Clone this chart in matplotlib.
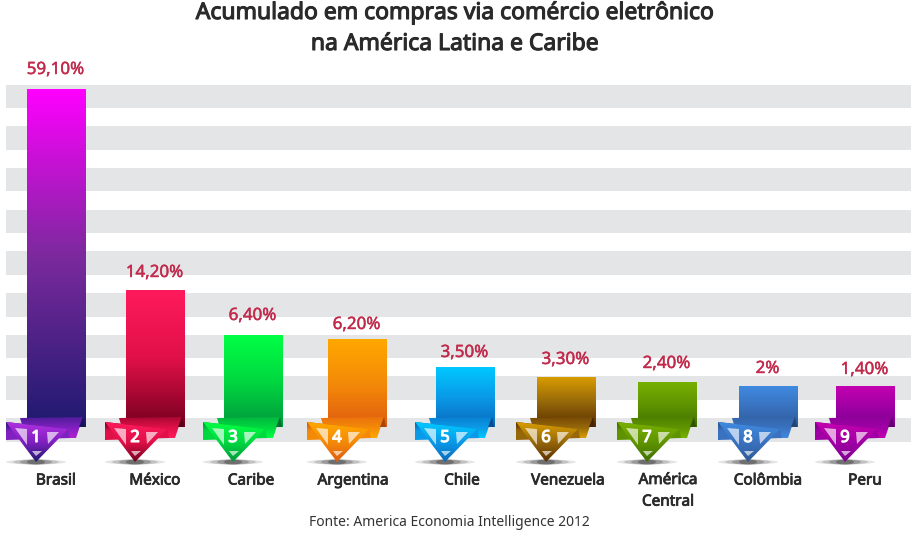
import numpy as np
import matplotlib
matplotlib.use('Agg')
import matplotlib.pyplot as plt
import matplotlib.patheffects as pe
from matplotlib.colors import LinearSegmentedColormap, to_rgb
from matplotlib.patches import Ellipse, Polygon

plt.rcParams['font.family'] = ['Noto Sans', 'DejaVu Sans']

# dados (as barras originais nao estao em escala com os rotulos)
categories = ['Brasil', 'México', 'Caribe', 'Argentina', 'Chile', 'Venezuela',
              'América\nCentral', 'Colômbia', 'Peru']
value_labels = ['59,10%', '14,20%', '6,40%', '6,20%', '3,50%', '3,30%', '2,40%', '2%', '1,40%']
bar_heights = [338, 137, 92, 88, 60, 50, 45, 41, 41]

# layout em pixels
bar_lefts = [27, 126, 224, 328, 436, 537, 638, 739, 836]
bar_width = 59
label_gaps = [21, 19, 21, 16, 16, 19, 20, 19, 18]
name_centers = [56, 155, 251, 353, 462, 568, 668, 768, 865]
baseline = 427

top_colors = ['#ff00ff', '#ff1a5c', '#00ff44', '#ffa800', '#00c8ff', '#d99c00', '#78b000', '#3f8ae0', '#c400b0']
mid_colors = ['#7a2a9c', '#e01048', '#00d840', '#f48a08', '#0a9ae8', '#96680a', '#5f9400', '#3a72c0', '#a000a4']
end_colors = ['#1e1a70', '#75001f', '#00983c', '#e05c10', '#0a68bc', '#5a2e00', '#407000', '#2e5a96', '#7e0090']


def py(pixel_y):
    # linha de pixel -> valor no eixo y
    return baseline - pixel_y


def mix(color, other, t):
    a, b = np.array(to_rgb(color)), np.array(to_rgb(other))
    return tuple(a + (b - a) * t)


def heavy(width, color):
    # a fonte original e semi-negrito
    return [pe.withStroke(linewidth=width, foreground=color)]


fig = plt.figure(figsize=(9.12, 5.46), dpi=100)
ax = fig.add_axes([0, 0, 1, 1])
ax.axis('off')

# faixas cinza do fundo
for k in range(9):
    start = 84.5 + 41.7 * k
    ax.fill_between([6, 913], py(start), py(start + 23.5), color='#e4e5e7', lw=0, zorder=0)

# barras com gradiente
bars = ax.bar(bar_lefts, bar_heights, width=bar_width, align='edge', color='none', zorder=2)
for rect, top, mid, end in zip(bars, top_colors, mid_colors, end_colors):
    cmap = LinearSegmentedColormap.from_list('g', [top, mid, end])
    x0, w, h = rect.get_x(), rect.get_width(), rect.get_height()
    img = ax.imshow(np.linspace(0, 1, 256).reshape(-1, 1), cmap=cmap, aspect='auto',
                    extent=[x0, x0 + w, 0, h], zorder=2)
    img.set_clip_path(rect)

# marcadores de fita com numero
for i, left in enumerate(bar_lefts):
    x = left + 9
    top, mid, end = top_colors[i], mid_colors[i], end_colors[i]
    if i == 0:
        top = '#b030e0'
        mid = '#8020c0'
    dark = mix(end, '#000000', 0.25)

    # sombra
    for w, alpha in zip([60, 46, 32, 18], [0.12, 0.18, 0.25, 0.35]):
        ax.add_patch(Ellipse((x, py(462)), w, 5, color='#222222', alpha=alpha, lw=0, zorder=3))
    # dobra de tras
    fold = Polygon([(x - 16, py(418)), (x + 47, py(417)), (x + 40, py(438)), (x - 10, py(438))],
                   facecolor='none', lw=0, zorder=3)
    ax.add_patch(fold)
    cmap = LinearSegmentedColormap.from_list('f', [mix(end, mid, 0.5), mid, top if i else '#b020d0'])
    img = ax.imshow(np.linspace(0, 1, 32).reshape(-1, 1), cmap=cmap, aspect='auto',
                    extent=[x - 16, x + 47, py(438), py(417)], zorder=3)
    img.set_clip_path(fold)
    ax.add_patch(Polygon([(x + 47, py(417)), (x + 49, py(427)), (x + 43, py(427))],
                         facecolor=dark, lw=0, zorder=3))
    # aba esquerda
    flap = Polygon([(x - 30, py(422)), (x - 30, py(440)), (x + 34, py(438)), (x + 32, py(429))],
                   facecolor='none', lw=0, zorder=4)
    ax.add_patch(flap)
    cmap = LinearSegmentedColormap.from_list('a', [mix(end, '#000000', 0.1), mid, mid])
    img = ax.imshow(np.linspace(0, 1, 32).reshape(-1, 1), cmap=cmap, aspect='auto',
                    extent=[x - 30, x + 34, py(440), py(422)], zorder=4)
    img.set_clip_path(flap)
    # triangulo da frente
    tri = Polygon([(x - 30, py(422)), (x + 32, py(429)), (x, py(462))], facecolor='none', lw=0, zorder=5)
    ax.add_patch(tri)
    cmap = LinearSegmentedColormap.from_list('t', [top, mid, end])
    img = ax.imshow(np.linspace(0, 1, 64).reshape(-1, 1), cmap=cmap, aspect='auto',
                    extent=[x - 30, x + 32, py(462), py(422)], zorder=5)
    img.set_clip_path(tri)
    # triangulos claros
    for pts in ([(-21, 428), (-9, 429), (-9, 445)], [(11, 432), (23, 432), (12, 444)], [(-4, 451), (6, 451), (0, 456)]):
        ax.add_patch(Polygon([(x + a, py(b)) for a, b in pts], facecolor='white', alpha=0.65, lw=0, zorder=6))
    ax.text(x, py(438), str(i + 1), color='white', fontsize=12, ha='center', va='center', zorder=7,
            path_effects=heavy(0.8, 'white'))

# rotulos
for i, rect in enumerate(bars):
    ax.text(rect.get_x() + rect.get_width() / 2 - 1, rect.get_height() + label_gaps[i] - 2, value_labels[i],
            color='#c22a4c', fontsize=12.2, ha='center', va='center', zorder=8,
            path_effects=heavy(0.3, '#c22a4c'))
    # nome com duas linhas comeca mais acima
    name_y, name_va = (py(473), 'top') if '\n' in categories[i] else (py(481), 'center')
    ax.text(name_centers[i], name_y, categories[i], color='#2b2b2b', fontsize=11, ha='center', va=name_va,
            linespacing=1.6, zorder=8, path_effects=heavy(0.6, '#2b2b2b'))

ax.text(449, py(522), 'Fonte: America Economia Intelligence 2012', color='#333333', fontsize=10,
        ha='center', va='center')
ax.text(455, py(13), 'Acumulado em compras via comércio eletrônico', color='#2a2a2a', fontsize=16.5,
        ha='center', va='center', path_effects=heavy(0.8, '#2a2a2a'))
ax.text(455, py(44), 'na América Latina e Caribe', color='#2a2a2a', fontsize=16.5,
        ha='center', va='center', path_effects=heavy(0.8, '#2a2a2a'))

ax.set_xlim(0, 912)
ax.set_ylim(py(546), py(0))
fig.savefig('out.png', dpi=100)
